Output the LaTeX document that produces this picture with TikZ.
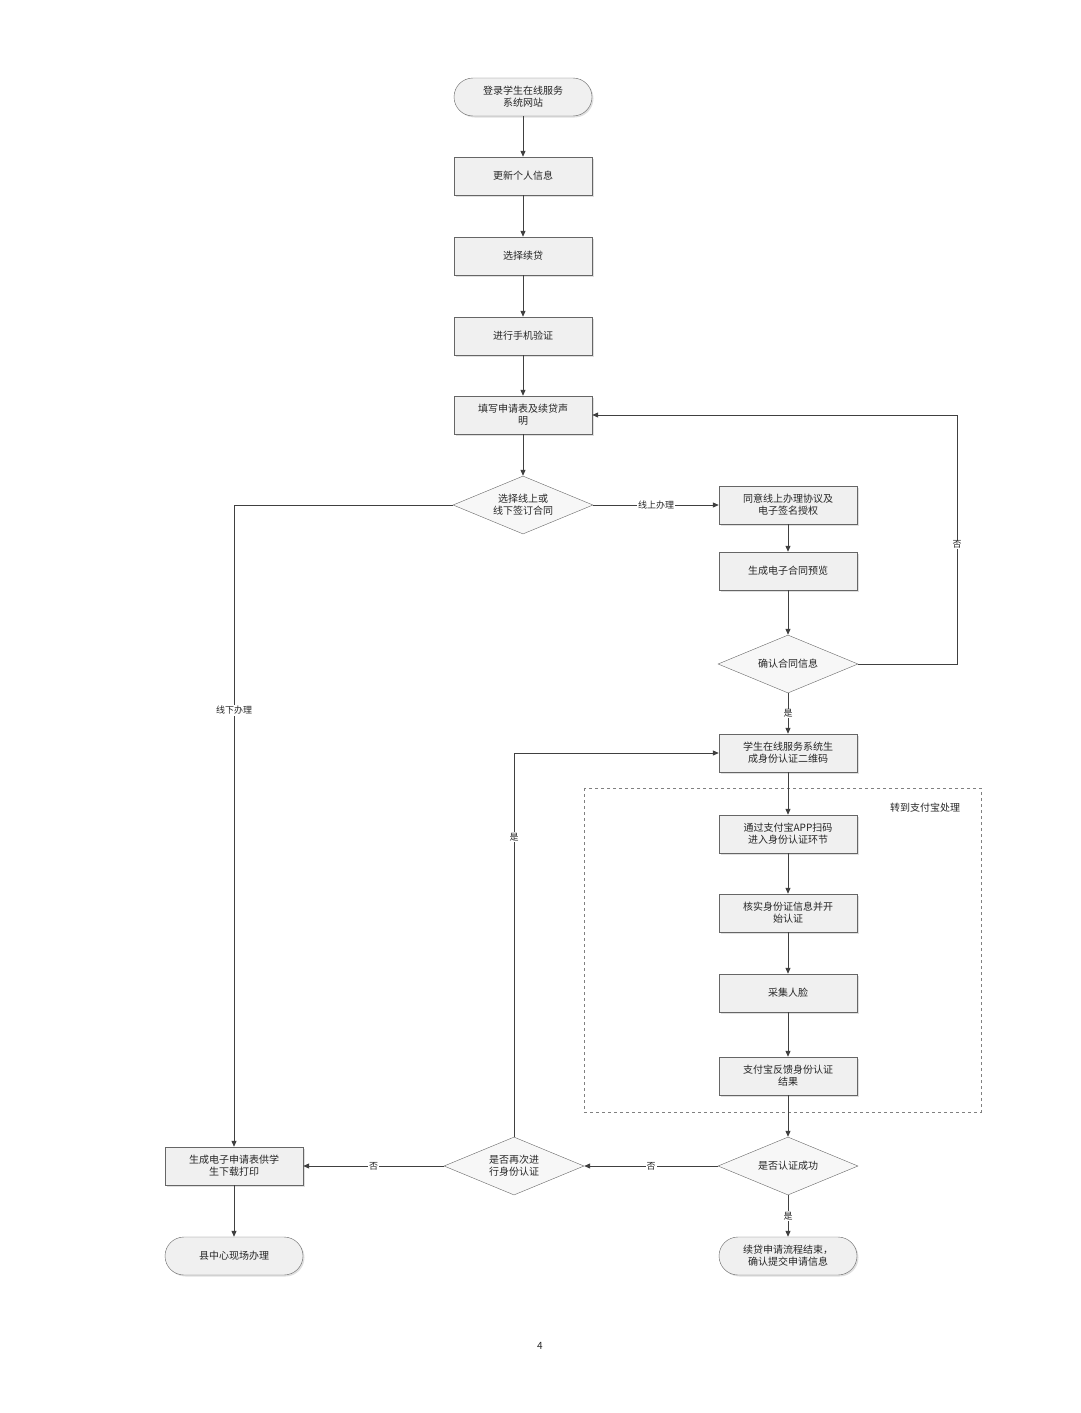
\documentclass[tikz,border=0pt]{standalone}
\usepackage{fontspec}
\setmainfont{Noto Sans CJK SC}
\usetikzlibrary{shapes.geometric,arrows.meta,shadows}
\begin{document}
\begin{tikzpicture}[x=1pt,y=-1pt,
  every node/.style={font=\fontsize{10}{12}\selectfont, text=black!85},
  box/.style={draw=black!60, fill=black!6, minimum width=138pt, minimum height=38pt, align=center, text width=130pt, inner sep=1pt, drop shadow={opacity=0.25,shadow xshift=1.5pt,shadow yshift=-1.5pt}},
  term/.style={box, rounded corners=19pt},
  dia/.style={diamond, aspect=2.4, draw=black!60, fill=black!3, minimum width=140pt, minimum height=58pt, inner sep=0pt, align=center},
  arr/.style={draw=black!75, line width=1pt, -{Triangle[length=6pt,width=5pt]}},
  lab/.style={fill=white, inner sep=1pt, font=\fontsize{9}{11}\selectfont}]
\useasboundingbox (0,0) rectangle (1080,1413);
\node[term] (s) at (523,97) {登录学生在线服务\\系统网站};
\node[box] (b1) at (523,176) {更新个人信息};
\node[box] (b2) at (523,256) {选择续贷};
\node[box] (b3) at (523,336) {进行手机验证};
\node[box] (b4) at (523,415) {填写申请表及续贷声\\明};
\node[dia] (d1) at (523,505) {选择线上或\\线下签订合同};
\node[box] (a1) at (788,505) {同意线上办理协议及\\电子签名授权};
\node[box] (a2) at (788,571) {生成电子合同预览};
\node[dia] (d2) at (788,664) {确认合同信息};
\node[box] (q) at (788,753) {学生在线服务系统生\\成身份认证二维码};
\draw[draw=black!50, dashed] (584,788) rectangle (981,1112);
\node (zl) at (925,808) {转到支付宝处理};
\node[box] (z1) at (788,834) {通过支付宝APP扫码\\进入身份认证环节};
\node[box] (z2) at (788,913) {核实身份证信息并开\\始认证};
\node[box] (z3) at (788,993) {采集人脸};
\node[box] (z4) at (788,1076) {支付宝反馈身份认证\\结果};
\node[dia] (d3) at (788,1166) {是否认证成功};
\node[term] (e) at (788,1256) {续贷申请流程结束，\\确认提交申请信息};
\node[dia] (d4) at (514,1166) {是否再次进\\行身份认证};
\node[box] (g) at (234,1166) {生成电子申请表供学\\生下载打印};
\node[term] (x) at (234,1256) {县中心现场办理};
\node (pn) at (540,1346) {4};
\coordinate (c1) at (234,505);
\coordinate (c2) at (957,664);
\coordinate (c3) at (957,415);
\coordinate (c4) at (514,753);
\path[arr] (s) -- (b1);
\path[arr] (b1) -- (b2);
\path[arr] (b2) -- (b3);
\path[arr] (b3) -- (b4);
\path[arr] (b4) -- (d1);
\path[arr] (d1) -- node[lab]{线上办理} (a1);
\path[arr] (a1) -- (a2);
\path[arr] (a2) -- (d2);
\path[arr] (d2) -- node[lab]{是} (q);
\path[arr] (d2.east) -- (c2) -- node[lab,pos=0.48]{否} (c3) -- (b4.east);
\path[arr] (d1.west) -- (c1) -- node[lab,pos=0.32]{线下办理} (g.north);
\path[arr] (q) -- (z1);
\path[arr] (z1) -- (z2);
\path[arr] (z2) -- (z3);
\path[arr] (z3) -- (z4);
\path[arr] (z4) -- (d3);
\path[arr] (d3) -- node[lab]{是} (e);
\path[arr] (d3) -- node[lab]{否} (d4);
\path[arr] (d4) -- node[lab]{否} (g);
\path[arr] (d4.north) -- node[lab,pos=0.78]{是} (c4) -- (q.west);
\path[arr] (g) -- (x);
\end{tikzpicture}
\end{document}
